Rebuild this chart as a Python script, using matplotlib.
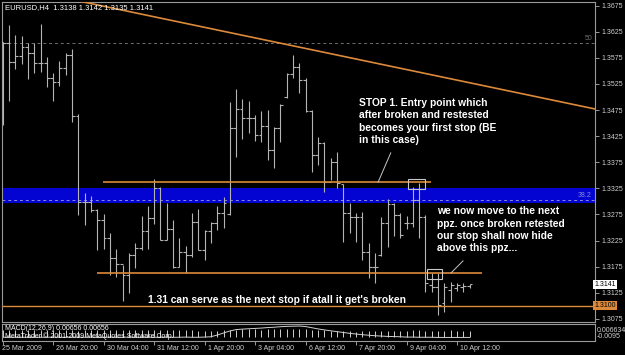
import numpy as np
import matplotlib
matplotlib.use('Agg')
import matplotlib.pyplot as plt
import matplotlib.transforms as mtrans
from matplotlib.patches import Rectangle

plt.rcParams['font.family'] = ['Liberation Sans', 'DejaVu Sans']

# EURUSD H4 bars (open, high, low, close), 25 Mar 2009 -> 10 Apr 2009
opens = [1.3605, 1.3604, 1.3567, 1.3579, 1.3596, 1.3584, 1.3565, 1.3565, 1.3537, 1.3529,
         1.3556, 1.3581, 1.3464, 1.3299, 1.3299, 1.3284, 1.3265, 1.3230, 1.3192, 1.3180,
         1.3159, 1.3198, 1.3211, 1.3244, 1.3268, 1.3326, 1.3226, 1.3247, 1.3175, 1.3203,
         1.3198, 1.3261, 1.3207, 1.3244, 1.3259, 1.3278, 1.3276, 1.3441, 1.3477, 1.3460,
         1.3460, 1.3427, 1.3445, 1.3399, 1.3441, 1.3500, 1.3544, 1.3558, 1.3533, 1.3473,
         1.3389, 1.3412, 1.3337, 1.3376, 1.3334, 1.3278, 1.3270, 1.3270, 1.3203, 1.3175,
         1.3198, 1.3259, 1.3295, 1.3274, 1.3259, 1.3259, 1.3303, 1.3270, 1.3140, 1.3136,
         1.3106, 1.3131, 1.3134, 1.3136, 1.3138]
highs = [1.3606, 1.3638, 1.3619, 1.3617, 1.3604, 1.3604, 1.3640, 1.3577, 1.3546, 1.3569,
         1.3584, 1.3592, 1.3468, 1.3316, 1.3311, 1.3286, 1.3276, 1.3240, 1.3209, 1.3178,
         1.3201, 1.3221, 1.3272, 1.3291, 1.3343, 1.3328, 1.3297, 1.3265, 1.3230, 1.3215,
         1.3278, 1.3286, 1.3245, 1.3261, 1.3291, 1.3309, 1.3491, 1.3515, 1.3496, 1.3492,
         1.3466, 1.3473, 1.3475, 1.3443, 1.3487, 1.3546, 1.3581, 1.3565, 1.3537, 1.3475,
         1.3424, 1.3414, 1.3383, 1.3395, 1.3334, 1.3297, 1.3278, 1.3280, 1.3221, 1.3201,
         1.3270, 1.3305, 1.3297, 1.3278, 1.3272, 1.3328, 1.3335, 1.3274, 1.3163, 1.3163,
         1.3144, 1.3146, 1.3144, 1.3144, 1.3142]
lows = [1.3447, 1.3492, 1.3554, 1.3563, 1.3535, 1.3546, 1.3548, 1.3519, 1.3492, 1.3521,
        1.3542, 1.3452, 1.3274, 1.3255, 1.3280, 1.3207, 1.3209, 1.3159, 1.3155, 1.3110,
        1.3125, 1.3173, 1.3207, 1.3209, 1.3257, 1.3226, 1.3226, 1.3173, 1.3175, 1.3163,
        1.3194, 1.3207, 1.3188, 1.3221, 1.3245, 1.3249, 1.3274, 1.3385, 1.3420, 1.3431,
        1.3416, 1.3414, 1.3380, 1.3364, 1.3414, 1.3498, 1.3537, 1.3508, 1.3471, 1.3357,
        1.3370, 1.3318, 1.3341, 1.3326, 1.3223, 1.3240, 1.3223, 1.3188, 1.3154, 1.3144,
        1.3196, 1.3213, 1.3234, 1.3230, 1.3247, 1.3251, 1.3230, 1.3127, 1.3127, 1.3083,
        1.3088, 1.3108, 1.3129, 1.3127, 1.3135]
closes = [1.3604, 1.3567, 1.3579, 1.3596, 1.3584, 1.3565, 1.3565, 1.3537, 1.3529, 1.3556,
          1.3581, 1.3464, 1.3299, 1.3299, 1.3284, 1.3265, 1.3230, 1.3192, 1.3180, 1.3159,
          1.3198, 1.3211, 1.3244, 1.3268, 1.3326, 1.3226, 1.3247, 1.3175, 1.3203, 1.3198,
          1.3261, 1.3207, 1.3244, 1.3259, 1.3278, 1.3297, 1.3441, 1.3477, 1.3460, 1.3460,
          1.3427, 1.3445, 1.3399, 1.3441, 1.3485, 1.3544, 1.3558, 1.3533, 1.3473, 1.3389,
          1.3412, 1.3337, 1.3376, 1.3335, 1.3278, 1.3270, 1.3270, 1.3203, 1.3175, 1.3175,
          1.3259, 1.3295, 1.3274, 1.3236, 1.3259, 1.3303, 1.3270, 1.3144, 1.3136, 1.3102,
          1.3136, 1.3140, 1.3140, 1.3138, 1.3141]

# MACD subwindow (x1e-3)
macd_hist = [4.0, 4.2, 4.1, 4.0, 3.9, 4.1, 4.0, 3.8, 3.9, 4.0, 4.1, 3.9,
             3.6, 3.7, 3.8, 3.9, 4.0, 3.8, 3.7, 3.9, 4.0, 4.1, 3.9, 3.8,
             4.0, 3.9, 4.1, 3.8, 3.9, 4.0, 3.8, 3.6, 3.4, 3.5, 3.6, 3.7,
             3.9, 4.2, 4.3, 4.4, 4.3, 4.2, 4.4, 4.5, 4.6, 4.7, 4.8, 4.6,
             4.4, 4.2, 4.0, 3.8, 3.6, 3.4, 3.2, 3.1, 3.0, 3.1, 3.2, 3.3,
             3.4, 3.5, 3.6, 3.5, 3.6, 3.7, 3.8, 3.6, 3.5, 3.4, 3.6, 3.7, 3.6, 3.5, 3.4]
macd_signal = [-0.3, -0.3, -0.2, -0.3, -0.3, -0.2, -0.3, -0.3, -0.2, -0.3, -0.3,
               -0.2, -0.3, -0.3, -0.2, -0.3, -0.3, -0.2, -0.3, -0.3, -0.2, -0.3,
               -0.3, -0.2, -0.3, -0.3, -0.2, -0.3, -0.3, -0.2, -0.3, -0.3, -0.2,
               0.0, 1.0, 2.2, 3.4, 4.2, 4.5, 4.7, 4.9, 5.1, 5.4, 5.6, 5.9, 6.1,
               6.2, 6.3, 6.0, 5.3, 4.6, 4.0, 3.5, 3.0, 2.5, 2.0, 1.6, 1.2, 0.9,
               0.6, 0.4, 0.2, 0.1, 0.0, -0.2, -0.2, -0.3, -0.3, -0.3, -0.4, -0.4,
               -0.4, -0.4, -0.4, -0.4]

price_ticks = [1.3075, 1.3125, 1.3175, 1.3225, 1.3275, 1.3325, 1.3375,
               1.3425, 1.3475, 1.3525, 1.3575, 1.3625, 1.3675]
date_ticks = [0, 8, 16, 24, 32, 40, 48, 56, 64, 72]
date_labels = ['25 Mar 2009', '26 Mar 20:00', '30 Mar 04:00', '31 Mar 12:00', '1 Apr 20:00',
               '3 Apr 04:00', '6 Apr 12:00', '7 Apr 20:00', '9 Apr 04:00', '10 Apr 12:00']

# drawn objects
trend_x = [12.4, 93.9]
trend_y = [1.3683, 1.3477]
stop1_level = 1.3338
stop1_span = [15.9, 67.9]
ppz_level = 1.3163
ppz_span = [14.9, 75.9]
next_stop = 1.3100
fib_50 = 1.3603
fib_382 = 1.3303
zone = [1.3297, 1.3326]

ORANGE = '#dc8a3a'
GREY = '#b4b4b4'
FRAME = '#9a9a9a'

fig = plt.figure(figsize=(6.25, 3.55), dpi=100, facecolor='black')
ax = fig.add_axes([2 / 625, 1 - 322 / 355, 593 / 625, 320 / 355], facecolor='black')
ax.set_xlim(-0.11, 93.87)
ax.set_ylim(1.3069, 1.3682)

idx = np.arange(len(opens))

# blue zone + fibo levels
ax.axhspan(zone[0], zone[1], color='#0404d2', lw=0, zorder=1)
ax.axhline(fib_50, color='#6e6e6e', lw=0.7, ls=(0, (3, 3)), zorder=2)
ax.axhline(fib_382, color='#8a8ad8', lw=0.7, ls=(0, (3, 3)), zorder=2)
ax.text(0.995, fib_50 + 0.0002, '50', color='#6e6e6e', fontsize=5,
        ha='right', va='bottom', transform=ax.get_yaxis_transform())
ax.text(0.995, fib_382 + 0.0002, '38.2', color='#8a8ad8', fontsize=5,
        ha='right', va='bottom', transform=ax.get_yaxis_transform())

# OHLC bars
ax.vlines(idx, lows, highs, color=GREY, lw=0.8, zorder=3)
ax.hlines(opens, idx - 0.45, idx, color=GREY, lw=0.8, zorder=3)
ax.hlines(closes, idx, idx + 0.45, color=GREY, lw=0.8, zorder=3)

# trend line and horizontal levels
ax.plot(trend_x, trend_y, color=ORANGE, lw=1.2, zorder=4)
ax.hlines(stop1_level, stop1_span[0], stop1_span[1], color=ORANGE, lw=1.2, zorder=4)
ax.hlines(ppz_level, ppz_span[0], ppz_span[1], color=ORANGE, lw=1.2, zorder=4)
ax.axhline(next_stop, color=ORANGE, lw=1.0, zorder=4)

# boxes and pointer lines
ax.add_patch(Rectangle((64.2, 1.3323), 2.8, 0.0020, fill=False, ec='#c8c8c8', lw=0.8, zorder=5))
ax.add_patch(Rectangle((67.2, 1.3151), 2.4, 0.0019, fill=False, ec='#c8c8c8', lw=0.8, zorder=5))
ax.plot([61.5, 59.5], [1.3393, 1.3337], color='#c8c8c8', lw=0.7, zorder=5)
ax.plot([72.95, 71.05], [1.3186, 1.3163], color='#c8c8c8', lw=0.7, zorder=5)

# notes
note = dict(color='white', fontsize=7.4, fontweight='bold', linespacing=1.3, zorder=6)
ax.text(56.5, 1.3498, 'STOP 1. Entry point which\nafter broken and restested\n'
        'becomes your first stop (BE\nin this case)', ha='left', va='top', **note)
ax.text(68.8, 1.3291, 'we now move to the next\nppz. once broken retested\n'
        'our stop shall now hide\nabove this ppz...', ha='left', va='top', **note)
ax.text(23.0, 1.3111, "1.31 can serve as the next stop if atall it get's broken",
        ha='left', va='center', **note)

# right price scale
ax.yaxis.tick_right()
ax.set_yticks(price_ticks)
ax.set_yticklabels(['%.4f' % p for p in price_ticks])
ax.tick_params(axis='y', colors=FRAME, labelcolor='#d0d0d0', labelsize=5, length=3, pad=1.5, width=0.7)
ax.set_xticks([])
for s in ax.spines.values():
    s.set_color(FRAME)
    s.set_linewidth(0.8)

ytr = ax.get_yaxis_transform()
ax.text(0.9985, closes[-1], '%.4f' % closes[-1], transform=ytr, ha='left', va='center', fontsize=5,
        color='black', clip_on=False, bbox=dict(boxstyle='square,pad=0.15', fc='white', ec='none'))
ax.text(0.9985, next_stop, '%.4f' % next_stop, transform=ytr, ha='left', va='center', fontsize=5,
        color='black', clip_on=False, bbox=dict(boxstyle='square,pad=0.15', fc=ORANGE, ec='none'))

fig.text(5 / 625, 1 - 8 / 355, 'EURUSD,H4  %.4f %.4f %.4f %.4f' % (opens[-1], highs[-1], lows[-1], closes[-1]),
         color='white', fontsize=5.5, ha='left', va='center')

# MACD subwindow
ax2 = fig.add_axes([2 / 625, 1 - 341 / 355, 593 / 625, 17 / 355], facecolor='black')
ax2.set_xlim(ax.get_xlim())
ax2.set_ylim(-2.5, 7.5)
ax2.vlines(idx, 0, macd_hist, color='#d0d0d0', lw=0.7)
ax2.plot(idx, macd_signal, color='#d0d0d0', lw=0.7)
ax2.set_yticks([])
ax2.set_xticks(date_ticks)
ax2.set_xticklabels([])
ax2.tick_params(axis='x', colors=FRAME, length=3, width=0.7)
for s in ax2.spines.values():
    s.set_color(FRAME)
    s.set_linewidth(0.8)
xtr = ax2.get_xaxis_transform()
for t, lab in zip(date_ticks, date_labels):
    ax2.text(t + 0.5 if t else t - 0.05, -0.47, lab, transform=xtr, ha='left', va='center',
             fontsize=5, color='#d0d0d0', clip_on=False)
ax2.text(0.005, 0.72, 'MACD(12,26,9) 0.00656 0.00656', transform=ax2.transAxes,
         fontsize=5, color='white', va='center')
ax2.text(0.005, 0.3, 'MetaTrader \u00a9 2001-2009 MetaQuotes Software Corp.', transform=ax2.transAxes,
         fontsize=5, color='white', va='center')
fig.text(597 / 625, 1 - 330 / 355, '0.006634', fontsize=5, color='#d0d0d0', va='center')
fig.text(597 / 625, 1 - 337 / 355, '-0.0095', fontsize=5, color='#d0d0d0', va='center')

fig.savefig('out.png', dpi=100, facecolor='black')
